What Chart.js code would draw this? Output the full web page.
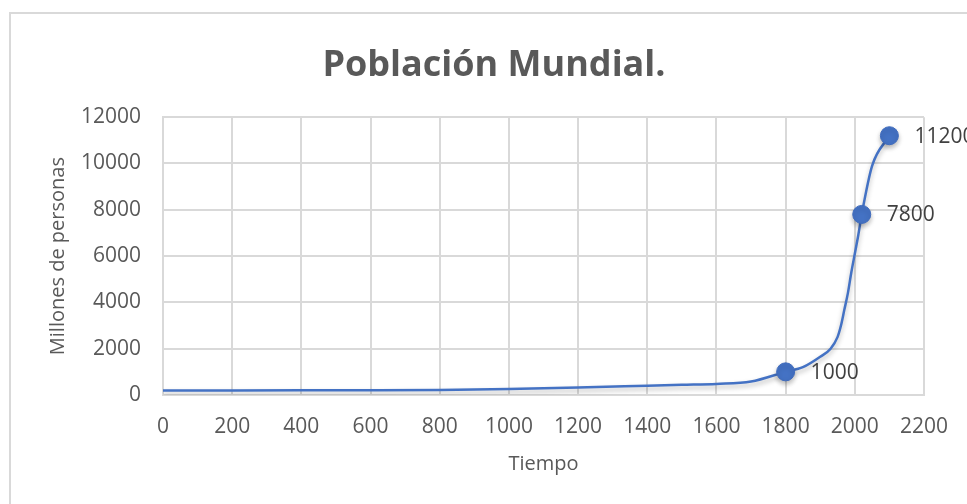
<!DOCTYPE html>
<html>
<head>
<meta charset="utf-8">
<script src="https://cdn.jsdelivr.net/npm/chart.js@4"></script>
<style>
    html, body { margin: 0; padding: 0; background: #fff; overflow: hidden; }
    #wrap { position: relative; width: 967px; height: 504px; }
    #frame { position: absolute; left: 9px; top: 12px; width: 990px; height: 530px; border: 2px solid #d9d9d9; box-sizing: border-box; }
    canvas { position: absolute; left: 0; top: 0; }
</style>
</head>
<body>
<div id="wrap">
    <div id="frame"></div>
    <canvas id="chart" width="967" height="504"></canvas>
</div>
<script>
// Años y población mundial (millones de personas)
const years = [0, 200, 400, 600, 800, 1000, 1200, 1400, 1500, 1600, 1700, 1800, 1850, 1900, 1930, 1950, 1960, 1970, 1980, 1990, 2000, 2010, 2020, 2050, 2100];
const population = [190, 195, 200, 205, 220, 260, 320, 400, 440, 480, 580, 1000, 1200, 1650, 2000, 2500, 3000, 3700, 4400, 5300, 6100, 6900, 7800, 9900, 11200];
// puntos con marcador y etiqueta
const markedYears = [1800, 2020, 2100];

// ejes
const xMin = 0, xMax = 2200, xStep = 200;
const yMin = 0, yMax = 12000, yStep = 2000;

const textColor = '#595959';
const gridColor = '#d9d9d9';
const lineColor = '#4472c4';
const baseFont = '"Open Sans", "Noto Sans", sans-serif';

// sombra suave como en Excel
const softShadow = {
    id: 'softShadow',
    beforeDatasetDraw(chart) {
        const ctx = chart.ctx;
        ctx.save();
        ctx.shadowColor = 'rgba(0, 0, 0, 0.28)';
        ctx.shadowBlur = 5;
        ctx.shadowOffsetY = 3;
    },
    afterDatasetDraw(chart) {
        chart.ctx.restore();
    }
};

// etiquetas de datos a la derecha de los marcadores
const pointLabels = {
    id: 'pointLabels',
    afterDatasetsDraw(chart) {
        const ctx = chart.ctx;
        const meta = chart.getDatasetMeta(0);
        ctx.save();
        ctx.font = '21px ' + baseFont;
        ctx.fillStyle = '#404040';
        ctx.textAlign = 'left';
        ctx.textBaseline = 'middle';
        meta.data.forEach((pt, i) => {
            if (!markedYears.includes(years[i])) return;
            ctx.fillText(String(population[i]), pt.x + 25, pt.y + 1);
        });
        ctx.restore();
    }
};

const ctx = document.getElementById('chart').getContext('2d');
new Chart(ctx, {
    type: 'line',
    data: {
        datasets: [{
            label: 'Población',
            data: years.map((x, i) => ({ x: x, y: population[i] })),
            borderColor: lineColor,
            borderWidth: 2.5,
            cubicInterpolationMode: 'monotone',
            pointRadius: years.map(y => markedYears.includes(y) ? 9 : 0),
            pointHoverRadius: years.map(y => markedYears.includes(y) ? 9 : 0),
            pointBackgroundColor: lineColor,
            pointBorderColor: '#3f6bbd',
            pointBorderWidth: 1,
            fill: false
        }]
    },
    options: {
        responsive: false,
        animation: false,
        layout: { padding: { left: 64, right: 43, top: 0, bottom: 0 } },
        plugins: {
            legend: { display: false },
            tooltip: { enabled: false },
            title: {
                display: true,
                text: 'Población Mundial.',
                color: textColor,
                font: { family: baseFont, size: 36, weight: 'bold' },
                padding: { top: 44, bottom: 30 }
            }
        },
        scales: {
            x: {
                type: 'linear',
                min: xMin,
                max: xMax,
                ticks: {
                    stepSize: xStep,
                    color: textColor,
                    font: { family: baseFont, size: 21 },
                    padding: 19,
                    maxRotation: 0,
                    autoSkip: false,
                    callback: v => String(v)
                },
                grid: { color: gridColor, lineWidth: 2, drawTicks: false },
                border: { color: gridColor, width: 2 },
                title: {
                    display: true,
                    text: 'Tiempo',
                    color: textColor,
                    font: { family: baseFont, size: 20 },
                    padding: { top: 0, bottom: 28 }
                },
                afterFit(scale) { scale.height = 109; }
            },
            y: {
                min: yMin,
                max: yMax,
                ticks: {
                    stepSize: yStep,
                    color: textColor,
                    font: { family: baseFont, size: 21 },
                    padding: 22,
                    callback: v => String(v)
                },
                grid: { color: gridColor, lineWidth: 2, drawTicks: false },
                border: { color: gridColor, width: 2 },
                title: {
                    display: true,
                    text: 'Millones de personas',
                    color: textColor,
                    font: { family: baseFont, size: 20 },
                    padding: { top: -18, bottom: 0 }
                },
                afterFit(scale) { scale.width = 99; }
            }
        }
    },
    plugins: [softShadow, pointLabels]
});
</script>
</body>
</html>
